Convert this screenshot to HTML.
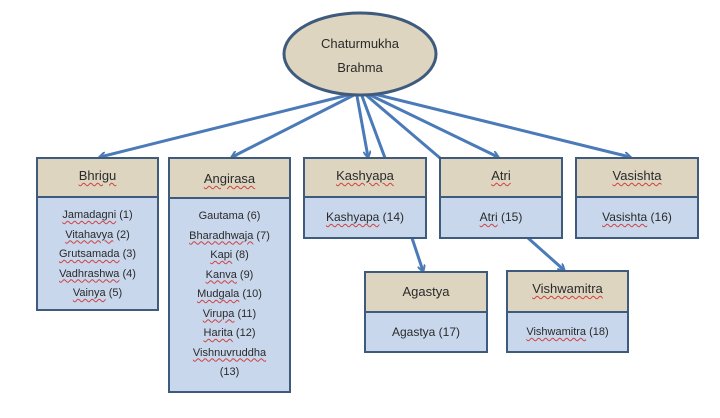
<!DOCTYPE html>
<html><head><meta charset="utf-8"><style>
body{margin:0;background:#fff;width:720px;height:418px;overflow:hidden;position:relative;font-family:"Liberation Sans",sans-serif;color:#2a2a2a}
.b{position:absolute;border:2.5px solid #3e5b7e;background:#c8d7ec;box-sizing:border-box}
.h{background:#ddd5c0;border-bottom:2.5px solid #3e5b7e;text-align:center;font-size:13px;box-sizing:border-box}
.c{text-align:center;font-size:11px;line-height:19.5px}
u{text-decoration:underline wavy #d04040;text-decoration-thickness:1px;text-underline-offset:2px}
svg{position:absolute;left:0;top:0}
</style></head><body>
<svg width="720" height="418">
<defs><marker id="a" markerWidth="8" markerHeight="8" refX="6" refY="4" orient="auto" markerUnits="userSpaceOnUse"><path d="M0,0 L7,4 L0,8" fill="none" stroke="#4a7ab8" stroke-width="2"/></marker></defs>
<g stroke="#4a7ab8" stroke-width="3" fill="none">
<line x1="352" y1="94" x2="100" y2="157" marker-end="url(#a)"/>
<line x1="354" y1="95" x2="232" y2="157" marker-end="url(#a)"/>
<line x1="357" y1="96" x2="368" y2="157" marker-end="url(#a)"/>
<line x1="362" y1="96" x2="385" y2="158"/>
<line x1="366" y1="95" x2="440" y2="158"/>
<line x1="368" y1="94" x2="498" y2="157" marker-end="url(#a)"/>
<line x1="370" y1="93" x2="630" y2="157" marker-end="url(#a)"/>
<line x1="412" y1="238" x2="423" y2="271" marker-end="url(#a)"/>
<line x1="528" y1="238" x2="564" y2="270" marker-end="url(#a)"/>
</g>
<ellipse cx="360" cy="54" rx="76" ry="41" fill="#ddd5c0" stroke="#3e5b7e" stroke-width="3"/>
<text x="360" y="48" text-anchor="middle" font-size="13" fill="#2a2a2a" font-family="Liberation Sans">Chaturmukha</text>
<text x="360" y="72" text-anchor="middle" font-size="13" fill="#2a2a2a" font-family="Liberation Sans">Brahma</text>
</svg>
<div class="b" style="left:36px;top:157px;width:123px;height:154px"><div class="h" style="height:39px;line-height:34px"><u>Bhrigu</u></div>
<div class="c" style="padding-top:8px"><u>Jamadagni</u> (1)<br><u>Vitahavya</u> (2)<br><u>Grutsamada</u> (3)<br><u>Vadhrashwa</u> (4)<br><u>Vainya</u> (5)</div></div>
<div class="b" style="left:168px;top:157px;width:123px;height:236px"><div class="h" style="height:40px;line-height:40px"><u>Angirasa</u></div>
<div class="c" style="padding-top:8px">Gautama (6)<br><u>Bharadhwaja</u> (7)<br><u>Kapi</u> (8)<br><u>Kanva</u> (9)<br><u>Mudgala</u> (10)<br><u>Virupa</u> (11)<br><u>Harita</u> (12)<br><u>Vishnuvruddha</u><br>(13)</div></div>
<div class="b" style="left:303px;top:157px;width:124px;height:82px"><div class="h" style="height:39px;line-height:34px"><u>Kashyapa</u></div>
<div class="c" style="font-size:12px;line-height:38px"><u>Kashyapa</u> (14)</div></div>
<div class="b" style="left:439px;top:157px;width:124px;height:82px"><div class="h" style="height:39px;line-height:34px"><u>Atri</u></div>
<div class="c" style="font-size:12px;line-height:38px"><u>Atri</u> (15)</div></div>
<div class="b" style="left:575px;top:157px;width:124px;height:82px"><div class="h" style="height:39px;line-height:34px"><u>Vasishta</u></div>
<div class="c" style="font-size:12px;line-height:38px"><u>Vasishta</u> (16)</div></div>
<div class="b" style="left:364px;top:271px;width:124px;height:82px"><div class="h" style="height:40px;line-height:38px">Agastya</div>
<div class="c" style="font-size:12px;line-height:38px">Agastya (17)</div></div>
<div class="b" style="left:506px;top:270px;width:123px;height:83px"><div class="h" style="height:41px;line-height:34px"><u>Vishwamitra</u></div>
<div class="c" style="font-size:11px;line-height:38px"><u>Vishwamitra</u> (18)</div></div>
</body></html>
